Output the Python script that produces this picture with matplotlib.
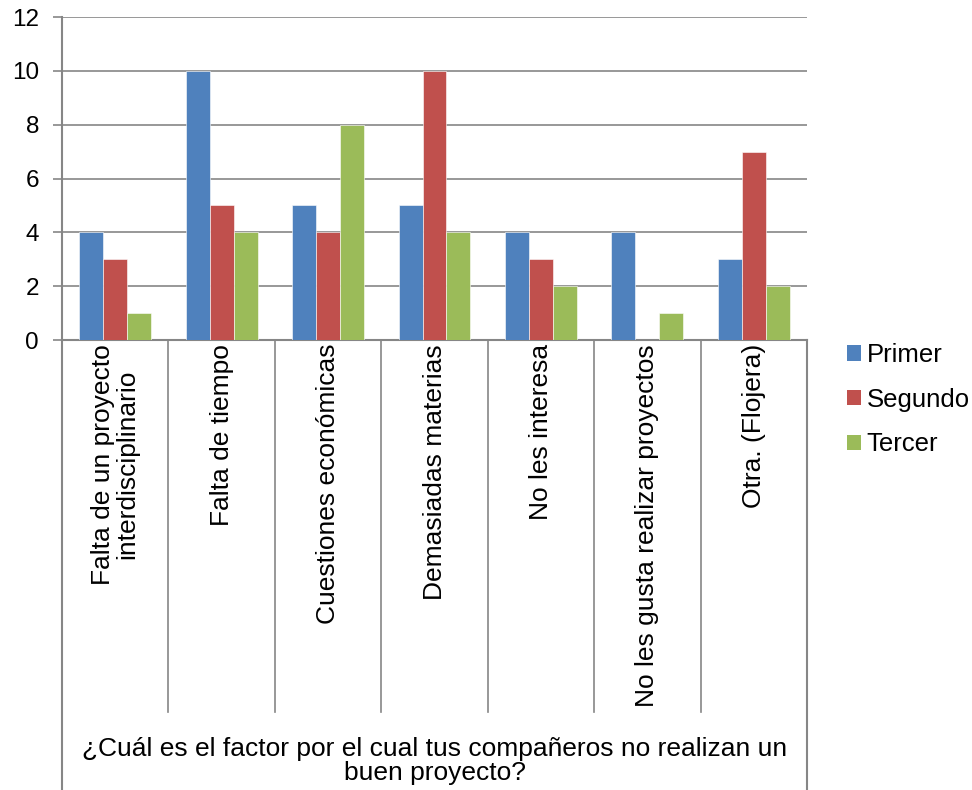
import matplotlib
matplotlib.use("Agg")
import matplotlib.pyplot as plt
import numpy as np
from matplotlib.patches import Patch

plt.rcParams['font.family'] = ['Liberation Sans', 'DejaVu Sans']

categories = [
    "Falta de un proyecto\ninterdisciplinario",
    "Falta de tiempo",
    "Cuestiones económicas",
    "Demasiadas materias",
    "No les interesa",
    "No les gusta realizar proyectos",
    "Otra. (Flojera)",
]
series_names = ["Primer", "Segundo", "Tercer"]
primer = [4, 10, 5, 5, 4, 4, 3]
segundo = [3, 5, 4, 10, 3, 0, 7]
tercer = [1, 4, 8, 4, 2, 1, 2]
y_ticks = [0, 2, 4, 6, 8, 10, 12]
axis_title = "¿Cuál es el factor por el cual tus compañeros no realizan un\nbuen proyecto?"

colors = ["#4F81BD", "#C0504D", "#9BBB59"]
grid_color = "#868686"

W, H = 972, 790
fig = plt.figure(figsize=(W / 100, H / 100), dpi=100)

left_px, right_px, top_px, bottom_px = 62, 807, 17, 340
ax = fig.add_axes([left_px / W, 1 - bottom_px / H,
                   (right_px - left_px) / W, (bottom_px - top_px) / H])

n = len(categories)
x = np.arange(n) + 0.5
bw = 0.225
for k, (vals, name) in enumerate(zip([primer, segundo, tercer], series_names)):
    ax.bar(x + (k - 1) * bw, vals, width=bw, color=colors[k], zorder=3,
           edgecolor="white", linewidth=0.4, label=name)

ax.set_xlim(0, n)
ax.set_ylim(0, 12)
ax.set_yticks(y_ticks)
ax.set_yticklabels([str(t) for t in y_ticks], fontsize=17.5)
ax.tick_params(axis="y", length=6.5, width=1.2, color=grid_color, pad=10)
ax.set_xticks([])
ax.yaxis.grid(True, color=grid_color, linewidth=1.2, zorder=0)
for s in ["top", "right"]:
    ax.spines[s].set_visible(False)
for s in ["left", "bottom"]:
    ax.spines[s].set_color(grid_color)
    ax.spines[s].set_linewidth(1.5)

# category separators and the outer frame of the label area (data units)
units_per_px = 12 / (bottom_px - top_px)
sep_bottom = -(712 - bottom_px) * units_per_px
outer_bottom = -(H - bottom_px) * units_per_px
for i in range(1, n):
    ax.plot([i, i], [0, sep_bottom], color=grid_color, lw=1.2, clip_on=False)
for xe in [0, n]:
    ax.plot([xe, xe], [0, outer_bottom], color=grid_color, lw=1.5,
            clip_on=False)

# rotated category labels
for xi, lab in zip(x, categories):
    ax.text(xi, -4 * units_per_px, lab, rotation=90, ha="center", va="top",
            multialignment="center", fontsize=19, clip_on=False,
            linespacing=1.0)

ax.text(n / 2, -(761 - bottom_px) * units_per_px, axis_title,
        ha="center", va="center", multialignment="center", fontsize=19,
        clip_on=False, linespacing=1.05)

handles = [Patch(facecolor=c, edgecolor="none") for c in colors]
fig.legend(handles, series_names, loc="upper left",
           bbox_to_anchor=(837 / W, 1 - 333 / H), frameon=False,
           fontsize=18.5, handlelength=0.55, handleheight=0.55,
           handletextpad=0.2, labelspacing=0.8, borderaxespad=0)

fig.savefig("out.png", dpi=100)
